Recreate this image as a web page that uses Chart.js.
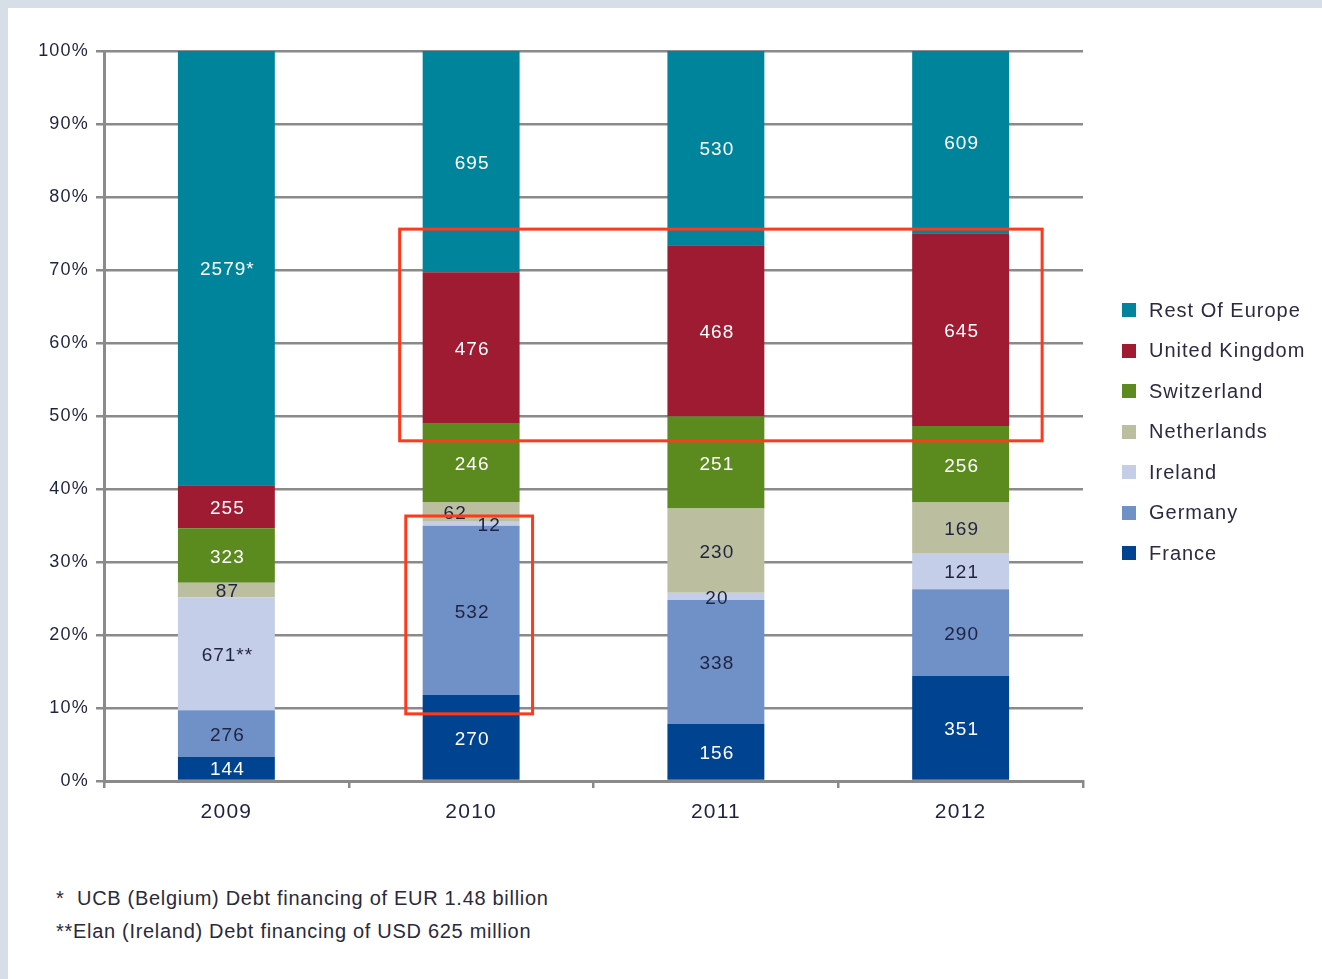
<!DOCTYPE html>
<html><head><meta charset="utf-8">
<script src="https://cdn.jsdelivr.net/npm/chart.js@4"></script>
<style>
html,body{margin:0;padding:0;}
body{width:1322px;height:979px;background:#d6dee7;position:relative;overflow:hidden;font-family:"Liberation Sans",Arial,sans-serif;}
#panel{position:absolute;left:8px;top:8px;right:0;bottom:0;background:#fff;}
#wrap{position:absolute;left:0;top:0;width:1322px;height:860px;}
#legend{position:absolute;left:1122px;top:290px;}
.li{height:40.5px;display:flex;align-items:center;font-size:20px;color:#2a2a40;letter-spacing:1px;white-space:nowrap;}
.sw{width:14px;height:14px;margin-right:13px;flex:none;}
#notes{position:absolute;left:56px;top:882px;font-size:20px;color:#2a2a3c;line-height:33px;letter-spacing:0.7px;white-space:nowrap;}
</style>
</head><body>
<div id="panel"></div>
<div id="wrap"><canvas id="c" width="1322" height="860"></canvas></div>
<div id="legend"></div>
<div id="notes"></div>
<script>
// ---- data ----
const categories = ['2009', '2010', '2011', '2012'];
const france        = [144, 270, 156, 351];
const germany       = [276, 532, 338, 290];
const ireland       = [671, 12, 20, 121];
const netherlands   = [87, 62, 230, 169];
const switzerland   = [323, 246, 251, 256];
const unitedKingdom = [255, 476, 468, 645];
const restOfEurope  = [2579, 695, 530, 609];
const restOfEuropeMarks = ['*', '', '', ''];
const irelandMarks      = ['**', '', '', ''];
const yTicks = [0, 10, 20, 30, 40, 50, 60, 70, 80, 90, 100];
const footnotes = ['*\u00a0 UCB (Belgium) Debt financing of EUR 1.48 billion', '**Elan (Ireland) Debt financing of USD 625 million'];
// highlighted regions (category index range, percent range)
const highlights = [
  {from: 1, to: 3, yTop: 75.6, yBottom: 46.6, padL: 0.292, padR: 0.333},
  {from: 1, to: 1, yTop: 36.3, yBottom: 9.2, padL: 0.267, padR: 0.251}
];

const series = [
  {label: 'France', values: france, color: '#004390', text: '#ffffff', marks: null},
  {label: 'Germany', values: germany, color: '#7090c8', text: '#1f2340', marks: null},
  {label: 'Ireland', values: ireland, color: '#c5cee8', text: '#1f2340', marks: irelandMarks},
  {label: 'Netherlands', values: netherlands, color: '#bcbf9f', text: '#1f2340', marks: null},
  {label: 'Switzerland', values: switzerland, color: '#5b8a1f', text: '#ffffff', marks: null},
  {label: 'United Kingdom', values: unitedKingdom, color: '#9e1b32', text: '#ffffff', marks: null},
  {label: 'Rest Of Europe', values: restOfEurope, color: '#00849b', text: '#ffffff', marks: restOfEuropeMarks}
];
const totals = categories.map((_, i) => series.reduce((s, d) => s + d.values[i], 0));
const labelNudgeX = {'Netherlands|1': -17, 'Ireland|1': 17};

const datasets = series.map(s => ({
  label: s.label,
  data: s.values.map((v, i) => v / totals[i] * 100),
  backgroundColor: s.color,
  borderWidth: 0,
  categoryPercentage: 1,
  barPercentage: 0.396
}));

const spacingPlugin = {
  id: 'spacing',
  beforeDraw(chart) { chart.ctx.letterSpacing = '1.2px'; }
};
const labelPlugin = {
  id: 'segLabels',
  afterDatasetsDraw(chart) {
    const ctx = chart.ctx;
    ctx.save();
    ctx.letterSpacing = '1px';
    ctx.font = '19px "Liberation Sans", Arial, sans-serif';
    ctx.textAlign = 'center';
    ctx.textBaseline = 'middle';
    series.forEach((s, di) => {
      const meta = chart.getDatasetMeta(di);
      meta.data.forEach((bar, i) => {
        const txt = s.values[i] + (s.marks ? s.marks[i] : '');
        const dx = labelNudgeX[s.label + '|' + i] || 0;
        ctx.fillStyle = s.text;
        ctx.fillText(txt, bar.x + dx + 1, (bar.y + bar.base) / 2 + 2);
      });
    });
    ctx.restore();
  }
};
const highlightPlugin = {
  id: 'highlights',
  afterDraw(chart) {
    const ctx = chart.ctx, xs = chart.scales.x, ys = chart.scales.y;
    const cw = xs.getPixelForValue(1) - xs.getPixelForValue(0);
    ctx.save();
    ctx.strokeStyle = '#ff3a1c';
    ctx.lineWidth = 3;
    highlights.forEach(h => {
      const l = xs.getPixelForValue(h.from) - h.padL * cw;
      const r = xs.getPixelForValue(h.to) + h.padR * cw;
      const t = ys.getPixelForValue(h.yTop);
      const b = ys.getPixelForValue(h.yBottom);
      ctx.strokeRect(l, t, r - l, b - t);
    });
    ctx.restore();
  }
};

new Chart(document.getElementById('c'), {
  type: 'bar',
  data: {labels: categories, datasets},
  plugins: [spacingPlugin, labelPlugin, highlightPlugin],
  options: {
    responsive: false,
    animation: false,
    devicePixelRatio: 1,
    layout: {padding: {left: 0, top: 51, right: 239, bottom: 29}},
    plugins: {legend: {display: false}, tooltip: {enabled: false}},
    scales: {
      x: {
        stacked: true,
        afterFit: s => { s.height = 50; },
        grid: {display: true, drawOnChartArea: false, drawTicks: true, tickLength: 7, color: '#8a8a8a', lineWidth: 2.5},
        border: {display: true, color: '#8a8a8a', width: 3},
        ticks: {color: '#1f2340', font: {family: '"Liberation Sans", Arial, sans-serif', size: 21}, padding: 12}
      },
      y: {
        stacked: true,
        min: 0, max: 100,
        afterFit: s => { s.width = 104; },
        afterBuildTicks: s => { s.ticks = yTicks.map(v => ({value: v})); },
        grid: {color: '#8a8a8a', lineWidth: 2.5, tickLength: 8},
        border: {display: true, color: '#8a8a8a', width: 3},
        ticks: {color: '#1f2340', font: {family: '"Liberation Sans", Arial, sans-serif', size: 18}, padding: 7, callback: v => v + '%'}
      }
    }
  }
});

// legend (top to bottom: reverse of stacking order)
const lg = document.getElementById('legend');
series.slice().reverse().forEach(s => {
  const row = document.createElement('div');
  row.className = 'li';
  const sw = document.createElement('span');
  sw.className = 'sw';
  sw.style.background = s.color;
  row.appendChild(sw);
  row.appendChild(document.createTextNode(s.label));
  lg.appendChild(row);
});
const nt = document.getElementById('notes');
footnotes.forEach(f => { const d = document.createElement('div'); d.textContent = f; nt.appendChild(d); });
</script>
</body></html>
